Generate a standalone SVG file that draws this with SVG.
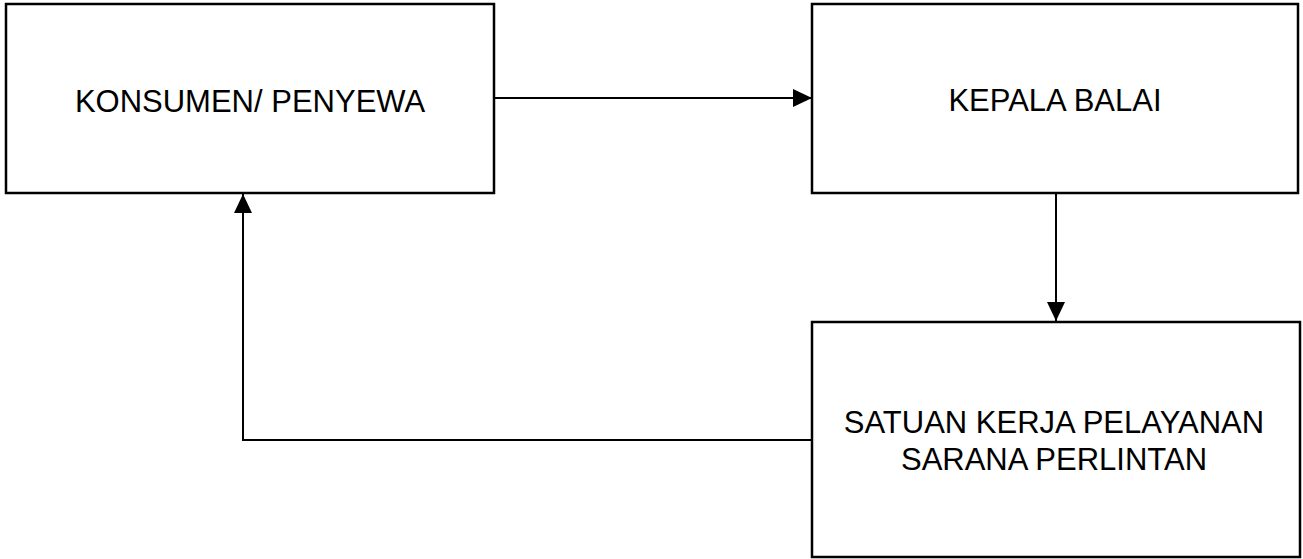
<svg xmlns="http://www.w3.org/2000/svg" width="1303" height="559" viewBox="0 0 1303 559">
<style>
.box{fill:#fff;stroke:#000;stroke-width:2.5}
.lbl{font-family:"Liberation Sans",Arial,sans-serif;font-size:31px;fill:#000;text-anchor:middle}
.conn{fill:none;stroke:#000;stroke-width:2}
</style>
<defs>
<marker id="ah" markerUnits="userSpaceOnUse" markerWidth="20" markerHeight="20" viewBox="0 0 20 20" refX="19" refY="10" orient="auto">
<path d="M0,1 L19,10 L0,19 Z" fill="#000"/>
</marker>
</defs>
<rect width="1303" height="559" fill="#fff"/>
<g id="connectors">
<line class="conn" x1="494" y1="98" x2="812" y2="98" marker-end="url(#ah)"/>
<line class="conn" x1="1056" y1="193" x2="1056" y2="321" marker-end="url(#ah)"/>
<polyline class="conn" points="812,440 243,440 243,194" marker-end="url(#ah)"/>
</g>
<g id="konsumen">
<rect class="box" x="6" y="4" width="488" height="189"/>
<text class="lbl" x="250" y="112">KONSUMEN/ PENYEWA</text>
</g>
<g id="kepala">
<rect class="box" x="812" y="4" width="486" height="189"/>
<text class="lbl" x="1055" y="111">KEPALA BALAI</text>
</g>
<g id="satuan">
<rect class="box" x="812" y="322" width="488" height="235"/>
<text class="lbl" x="1054" y="433">SATUAN KERJA PELAYANAN</text>
<text class="lbl" x="1054" y="470">SARANA PERLINTAN</text>
</g>
</svg>
